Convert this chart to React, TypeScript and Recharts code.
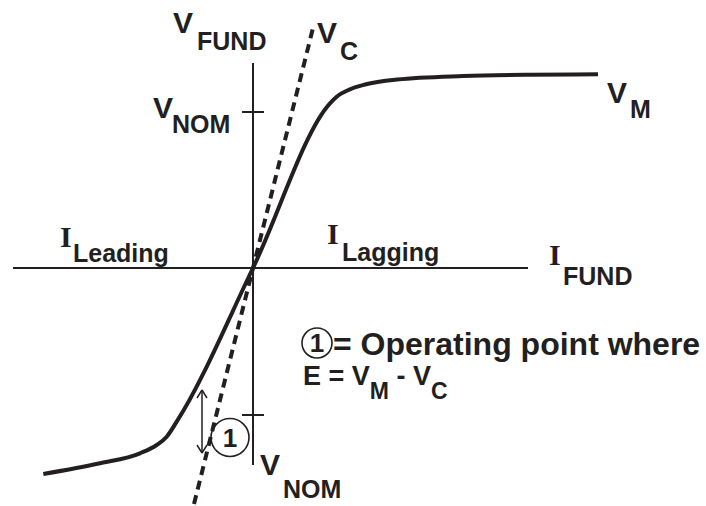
import React from 'react';
import { LineChart, Line, XAxis, YAxis, ReferenceLine, ReferenceDot } from 'recharts';

const INK = '#231f20';
const SANS = '"Liberation Sans", Arial, sans-serif';
const SERIF = '"Liberation Serif", "Times New Roman", serif';

// magnetizing curve V_M: fundamental current vs fundamental voltage (arbitrary units)
const vmCurrent = [-20.97, -15.3, -11.3, -9.63, -8.63, -7.63, 0, 7.7, 8.37, 9.7, 11.2, 14.4, 21.0, 27.7, 34.5];
const vmVoltage = [-20.6, -19.53, -18.53, -17.7, -16.87, -15.37, 0, 16.47, 17.13, 17.87, 18.35, 18.85, 19.2, 19.33, 19.37];

// capacitor line V_C
const vcCurrent = [-5.9, 6.0];
const vcVoltage = [-23.6, 24.0];

// axis extents and nominal voltage ticks
const iAxis = [-24.0, 27.5];
const vAxis = [-19.7, 20.5];
const vNom = [15.6, -14.7];
const tickHalf = 1.1;

// operating point and the E = V_M - V_C span
const opPoint = { i: -2.3, v: -16.95 };
const eArrowI = -5.1;
const eArrowV = [-12.2, -18.5];

const vmData = vmCurrent.map((i, k) => ({ i, v: vmVoltage[k] }));
const vcData = vcCurrent.map((i, k) => ({ i, v: vcVoltage[k] }));

type AxisLabel = { main: string; sub: string; i: number; v: number; serif?: boolean; subDx: number; subDy: number };

const axisLabels: AxisLabel[] = [
  { main: 'V', sub: 'FUND', i: -8.0, v: 23.5, subDx: 24, subDy: 17 },
  { main: 'V', sub: 'C', i: 6.4, v: 22.5, subDx: 23, subDy: 17 },
  { main: 'V', sub: 'NOM', i: -10.0, v: 15.0, subDx: 19, subDy: 15 },
  { main: 'V', sub: 'M', i: 35.4, v: 16.5, subDx: 23, subDy: 15 },
  { main: 'V', sub: 'NOM', i: 0.7, v: -20.7, subDx: 23, subDy: 23 },
  { main: 'I', sub: 'Leading', i: -19.3, v: 2.1, serif: true, subDx: 13, subDy: 15 },
  { main: 'I', sub: 'Lagging', i: 7.4, v: 2.4, serif: true, subDx: 15, subDy: 17 },
  { main: 'I', sub: 'FUND', i: 29.6, v: 0.3, serif: true, subDx: 14, subDy: 20 },
];

const SubLabel = ({ cx, cy, item }: { cx?: number; cy?: number; item: AxisLabel }) => {
  if (cx == null || cy == null) return null;
  return (
    <g fill={INK} fontWeight="bold">
      <text x={cx} y={cy} fontFamily={item.serif ? SERIF : SANS} fontSize={30}>{item.main}</text>
      <text x={cx + item.subDx} y={cy + item.subDy} fontFamily={SANS} fontSize={25}>{item.sub}</text>
    </g>
  );
};

const CircledOne = ({ cx, cy, r }: { cx?: number; cy?: number; r?: number }) => {
  if (cx == null || cy == null) return null;
  return (
    <g>
      <circle cx={cx} cy={cy} r={r} fill="none" stroke={INK} strokeWidth={1.6} />
      <text x={cx} y={cy + 9} textAnchor="middle" fontFamily={SANS} fontWeight="bold" fontSize={26} fill={INK}>1</text>
    </g>
  );
};

const LegendText = ({ cx, cy }: { cx?: number; cy?: number }) => {
  if (cx == null || cy == null) return null;
  return (
    <g fill={INK} fontFamily={SANS} fontWeight="bold">
      <text x={cx} y={cy} fontSize={32}>= Operating point where</text>
      <text x={cx - 30} y={cy + 30} fontSize={27}>
        E = V<tspan fontSize={23} dy={14}>M</tspan>
        <tspan dy={-14}> - V</tspan>
        <tspan fontSize={23} dy={14}>C</tspan>
      </text>
    </g>
  );
};

export default function App() {
  return (
    <div style={{ position: 'absolute', left: 0, top: 0, width: 706, height: 506, background: '#fff' }}>
      <LineChart width={706} height={506} margin={{ top: 0, right: 0, bottom: 0, left: 0 }}>
        <XAxis dataKey="i" type="number" domain={[-25.3, 45.3]} hide allowDataOverflow />
        <YAxis dataKey="v" type="number" domain={[-23.8, 26.8]} hide allowDataOverflow />

        {/* axes */}
        <ReferenceLine segment={[{ x: iAxis[0], y: 0 }, { x: iAxis[1], y: 0 }]} stroke={INK} strokeWidth={2} ifOverflow="visible" />
        <ReferenceLine segment={[{ x: 0, y: vAxis[0] }, { x: 0, y: vAxis[1] }]} stroke={INK} strokeWidth={2} ifOverflow="visible" />
        {vNom.map((v) => (
          <ReferenceLine key={v} segment={[{ x: -tickHalf, y: v }, { x: tickHalf, y: v }]} stroke={INK} strokeWidth={2} ifOverflow="visible" />
        ))}

        <Line data={vcData} dataKey="v" type="linear" stroke={INK} strokeWidth={4} strokeDasharray="9 6" dot={false} activeDot={false} isAnimationActive={false} />
        <Line data={vmData} dataKey="v" type="monotone" stroke={INK} strokeWidth={4} dot={false} activeDot={false} isAnimationActive={false} />

        {/* E double arrow */}
        <ReferenceLine segment={[{ x: eArrowI, y: eArrowV[0] }, { x: eArrowI, y: eArrowV[1] }]} stroke={INK} strokeWidth={1.5} ifOverflow="visible" />
        {[-0.5, 0.5].map((d) => (
          <ReferenceLine key={'t' + d} segment={[{ x: eArrowI, y: eArrowV[0] }, { x: eArrowI + d, y: eArrowV[0] - 0.8 }]} stroke={INK} strokeWidth={1.5} ifOverflow="visible" />
        ))}
        {[-0.5, 0.5].map((d) => (
          <ReferenceLine key={'b' + d} segment={[{ x: eArrowI, y: eArrowV[1] }, { x: eArrowI + d, y: eArrowV[1] + 0.8 }]} stroke={INK} strokeWidth={1.5} ifOverflow="visible" />
        ))}

        <ReferenceDot x={opPoint.i} y={opPoint.v} r={19} ifOverflow="visible" shape={(p: any) => <CircledOne {...p} />} />
        <ReferenceDot x={6.4} y={-7.5} r={15} ifOverflow="visible" shape={(p: any) => <CircledOne {...p} />} />
        <ReferenceDot x={8.0} y={-8.7} r={0} ifOverflow="visible" shape={(p: any) => <LegendText {...p} />} />

        {axisLabels.map((l) => (
          <ReferenceDot key={l.main + l.sub + l.i} x={l.i} y={l.v} r={0} ifOverflow="visible" shape={(p: any) => <SubLabel {...p} item={l} />} />
        ))}
      </LineChart>
    </div>
  );
}
